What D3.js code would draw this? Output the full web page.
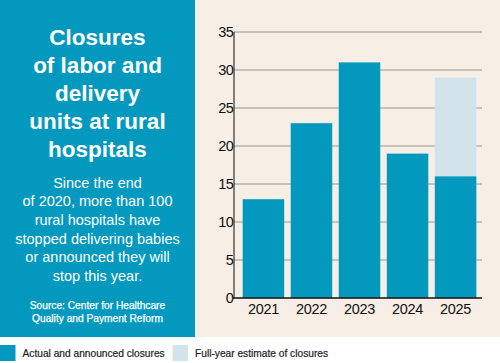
<!DOCTYPE html>
<html lang="en">
<head>
  <meta charset="UTF-8">
  <title>Rural labor and delivery closures</title>
  <style>
    body {
      margin: 0;
      background: #ffffff;
      font-family: "Liberation Sans", Arial, sans-serif;
    }
    svg { display: block; }
  </style>
</head>
<body>
  <svg id="chart" width="500" height="363"></svg>

  <script src="https://d3js.org/d3.v7.min.js"></script>
  <script>
    const years = ["2021", "2022", "2023", "2024", "2025"];
    const actual = [13, 23, 31, 19, 16];
    const estimate = [null, null, null, null, 29];
    const yTicks = [0, 5, 10, 15, 20, 25, 30, 35];

    const titleLines = ["Closures", "of labor and", "delivery", "units at rural", "hospitals"];
    const bodyLines = ["Since the end", "of 2020, more than 100", "rural hospitals have",
      "stopped delivering babies", "or announced they will", "stop this year."];
    const sourceLines = ["Source: Center for Healthcare", "Quality and Payment Reform"];

    const teal = "#0399bf";
    const paleBlue = "#d2e3ec";
    const beige = "#f7efe6";

    const svg = d3.select("#chart");

    // panels
    svg.append("rect").attr("x", 0).attr("y", 0).attr("width", 195).attr("height", 337).attr("fill", teal);
    svg.append("rect").attr("x", 196).attr("y", 0).attr("width", 304).attr("height", 337).attr("fill", beige);

    // left text block
    const cx = 97.5;
    svg.append("g").selectAll("text").data(titleLines).join("text")
      .attr("x", cx)
      .attr("y", (d, i) => 45 + i * 27.9)
      .attr("text-anchor", "middle")
      .attr("fill", "#fff")
      .attr("font-weight", "bold")
      .attr("font-size", "22.5px")
      .text(d => d);

    svg.append("g").selectAll("text").data(bodyLines).join("text")
      .attr("x", cx)
      .attr("y", (d, i) => 187.5 + i * 18.7)
      .attr("text-anchor", "middle")
      .attr("fill", "#fff")
      .attr("font-size", "14.5px")
      .text(d => d);

    svg.append("g").selectAll("text").data(sourceLines).join("text")
      .attr("x", cx)
      .attr("y", (d, i) => 309 + i * 13.3)
      .attr("text-anchor", "middle")
      .attr("fill", "#fff")
      .attr("font-size", "10.2px")
      .attr("stroke", "#fff")
      .attr("stroke-width", 0.25)
      .text(d => d);

    // chart
    const x = d3.scaleBand().domain(years).range([238.5, 480.5]).paddingInner(0.136).paddingOuter(0.087);
    const y = d3.scaleLinear().domain([0, 35]).range([298, 32]);

    svg.append("g").selectAll("line").data(yTicks.filter(d => d > 0)).join("line")
      .attr("x1", 234).attr("x2", 482)
      .attr("y1", d => y(d)).attr("y2", d => y(d))
      .attr("stroke", "#9a948e").attr("stroke-width", 1.2);

    const rows = years.map((yr, i) => ({ yr, actual: actual[i], estimate: estimate[i] }));

    svg.append("g").selectAll("rect").data(rows.filter(d => d.estimate != null)).join("rect")
      .attr("x", d => x(d.yr))
      .attr("width", x.bandwidth())
      .attr("y", d => y(d.estimate))
      .attr("height", d => y(0) - y(d.estimate))
      .attr("fill", paleBlue);

    svg.append("g").selectAll("rect").data(rows).join("rect")
      .attr("x", d => x(d.yr))
      .attr("width", x.bandwidth())
      .attr("y", d => y(d.actual))
      .attr("height", d => y(0) - y(d.actual))
      .attr("fill", teal);

    // axes
    svg.append("line").attr("x1", 234).attr("x2", 234).attr("y1", y(35)).attr("y2", y(0))
      .attr("stroke", "#333").attr("stroke-width", 1.2);
    svg.append("line").attr("x1", 233).attr("x2", 482).attr("y1", y(0)).attr("y2", y(0))
      .attr("stroke", "#111").attr("stroke-width", 1.6);

    svg.append("g").selectAll("text").data(yTicks).join("text")
      .attr("x", 233.5)
      .attr("y", d => y(d) + 5)
      .attr("text-anchor", "end")
      .attr("font-size", "14.5px")
      .attr("fill", "#111")
      .attr("letter-spacing", "-0.4px")
      .text(d => d);

    svg.append("g").selectAll("text").data(years).join("text")
      .attr("x", d => x(d) + x.bandwidth() / 2)
      .attr("y", 314)
      .attr("text-anchor", "middle")
      .attr("font-size", "14.5px")
      .attr("fill", "#111")
      .attr("letter-spacing", "-0.3px")
      .text(d => d);

    // legend
    const legend = [
      { label: "Actual and announced closures", color: teal, x: 0 },
      { label: "Full-year estimate of closures", color: paleBlue, x: 172.5 }
    ];
    const lg = svg.append("g").selectAll("g").data(legend).join("g")
      .attr("transform", d => `translate(${d.x},345)`);
    lg.append("rect").attr("width", 15.5).attr("height", 16).attr("fill", d => d.color);
    lg.append("text")
      .attr("x", 22.5).attr("y", 11.8)
      .attr("font-size", "10.2px")
      .attr("fill", "#222")
      .attr("stroke", "#222")
      .attr("stroke-width", 0.2)
      .text(d => d.label);
  </script>
</body>
</html>
